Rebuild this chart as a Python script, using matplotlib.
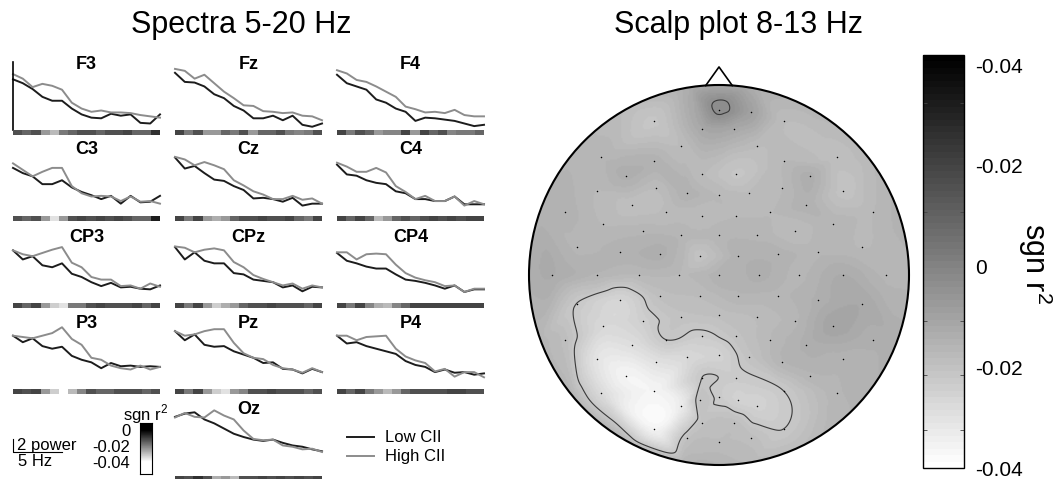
"""Spectra (5-20 Hz) per channel plus an 8-13 Hz scalp map of sgn r^2."""
import matplotlib
matplotlib.use("Agg")
import matplotlib.pyplot as plt
import matplotlib.tri as mtri
from matplotlib.colors import Normalize
from matplotlib.cm import ScalarMappable
from matplotlib.patches import Circle
import numpy as np

plt.rcParams["font.family"] = ["Liberation Sans", "DejaVu Sans"]
plt.rcParams["mathtext.fontset"] = "custom"
plt.rcParams["mathtext.rm"] = "Liberation Sans"

W, H = 1062, 479
LOW = "#1c1c1c"; HIGH = "#8c8c8c"

# ---- spectra data (power, arbitrary units) ----
freqs = [5, 6, 7, 8, 9, 10, 11, 12, 13, 14, 15, 16, 17, 18, 19, 20]
channels = ["F3", "Fz", "F4", "C3", "Cz", "C4", "CP3", "CPz", "CP4", "P3", "Pz", "P4", "Oz"]

low_F3 = [7.8, 7.2, 6.3, 5.1, 4.5, 4.5, 3.3, 2.4, 1.9, 1.8, 2.5, 2.2, 2.4, 1.1, 1.0, 2.4]
high_F3 = [8.6, 7.9, 6.6, 7.1, 6.8, 6.2, 4.2, 3.3, 2.8, 3.0, 2.7, 2.7, 2.6, 2.3, 2.1, 1.9]
low_Fz = [8.8, 7.4, 7.3, 6.7, 5.5, 4.9, 3.7, 3.0, 1.8, 1.8, 2.2, 1.5, 2.2, 0.8, 0.5, 1.0]
high_Fz = [9.4, 9.1, 7.9, 8.5, 7.2, 5.9, 4.9, 3.8, 3.7, 2.9, 2.8, 2.6, 2.7, 2.2, 2.1, 1.5]
low_F4 = [8.5, 7.2, 6.7, 6.2, 4.7, 4.2, 3.3, 2.8, 1.4, 1.9, 1.8, 1.6, 1.4, 1.0, 0.6, 0.8]
high_F4 = [9.2, 8.7, 7.7, 7.4, 6.7, 5.9, 5.1, 3.6, 3.2, 2.7, 2.8, 2.6, 3.1, 2.3, 2.1, 2.1]
low_C3 = [7.4, 6.6, 6.1, 4.9, 4.9, 5.5, 4.4, 3.7, 3.2, 2.6, 3.1, 1.9, 3.1, 2.1, 2.2, 3.1]
high_C3 = [8.1, 7.1, 6.1, 6.8, 7.4, 7.4, 4.6, 3.5, 3.0, 3.1, 3.0, 2.3, 3.0, 2.2, 2.3, 1.9]
low_Cz = [9.0, 7.3, 7.7, 6.6, 5.6, 5.4, 4.6, 4.0, 2.7, 2.8, 2.6, 2.2, 2.8, 1.6, 1.9, 1.9]
high_Cz = [9.1, 8.7, 7.8, 8.3, 7.8, 7.2, 5.5, 4.7, 3.8, 3.3, 2.6, 2.6, 3.1, 2.5, 2.7, 1.9]
low_C4 = [7.9, 6.4, 6.2, 5.5, 5.1, 4.9, 3.8, 3.5, 2.6, 2.6, 2.3, 2.3, 3.0, 1.8, 1.8, 1.8]
high_C4 = [8.2, 7.6, 6.8, 6.8, 7.4, 6.7, 4.6, 3.7, 2.6, 3.1, 2.3, 2.3, 3.0, 1.6, 2.3, 1.8]
low_CP3 = [8.1, 6.7, 7.2, 5.8, 5.5, 6.1, 4.5, 4.0, 3.2, 2.6, 3.1, 2.4, 2.5, 2.2, 2.1, 2.7]
high_CP3 = [8.1, 7.5, 7.2, 7.7, 8.2, 8.6, 6.2, 5.5, 4.0, 3.6, 3.6, 2.6, 2.7, 2.2, 3.0, 2.5]
low_CPz = [8.6, 6.7, 7.8, 6.5, 6.1, 6.1, 4.6, 4.4, 3.6, 3.4, 3.2, 2.4, 2.7, 1.8, 2.5, 2.4]
high_CPz = [8.7, 8.5, 7.8, 8.2, 8.4, 8.1, 6.3, 5.5, 4.3, 3.7, 3.2, 2.7, 3.0, 2.2, 2.7, 2.4]
low_CP4 = [7.7, 6.5, 6.1, 5.6, 5.3, 5.3, 4.4, 3.6, 3.4, 3.1, 2.7, 2.2, 2.7, 1.7, 2.1, 2.1]
high_CP4 = [7.8, 7.8, 6.7, 7.5, 7.6, 7.5, 5.9, 4.6, 3.9, 3.5, 3.2, 2.6, 2.7, 1.7, 2.2, 2.2]
low_P3 = [8.2, 7.2, 7.8, 6.6, 6.2, 6.5, 5.1, 4.5, 4.1, 3.2, 4.0, 3.5, 3.6, 3.4, 3.5, 3.4]
high_P3 = [8.2, 8.0, 7.8, 8.2, 8.6, 9.5, 7.7, 6.8, 4.8, 4.5, 3.6, 3.2, 3.0, 3.6, 3.0, 3.4]
low_Pz = [8.9, 7.5, 8.4, 6.8, 6.5, 6.6, 5.8, 5.3, 4.8, 4.0, 4.1, 3.1, 3.0, 2.4, 3.1, 2.6]
high_Pz = [8.9, 8.2, 8.4, 8.9, 9.2, 9.2, 7.1, 5.5, 4.8, 4.6, 3.7, 3.2, 3.0, 2.5, 3.2, 2.6]
low_P4 = [8.2, 7.0, 7.2, 6.6, 6.2, 5.8, 5.4, 4.3, 3.7, 3.4, 2.6, 3.0, 2.5, 2.6, 2.2, 2.4]
high_P4 = [8.2, 8.2, 7.5, 8.0, 8.1, 8.2, 6.2, 5.0, 4.4, 4.0, 2.7, 3.1, 1.9, 2.6, 2.6, 1.8]
low_Oz = [9.1, 9.6, 9.8, 8.7, 8.1, 7.3, 6.5, 6.0, 5.6, 5.4, 5.6, 5.1, 4.7, 4.5, 4.1, 3.8]
high_Oz = [9.0, 9.7, 9.1, 9.0, 10.1, 9.3, 8.7, 7.0, 5.7, 5.5, 5.6, 4.7, 4.5, 4.1, 4.2, 3.7]

# sgn r^2 per frequency bin (strip under each spectrum)
r2_F3 = [-0.013, -0.016, -0.013, -0.024, -0.029, -0.019, -0.016, -0.013, -0.013, -0.016, -0.013, -0.013, -0.011, -0.016, -0.016, -0.008]
r2_Fz = [-0.011, -0.019, -0.013, -0.024, -0.024, -0.016, -0.019, -0.013, -0.024, -0.016, -0.016, -0.013, -0.019, -0.021, -0.019, -0.013]
r2_F4 = [-0.011, -0.019, -0.013, -0.016, -0.024, -0.021, -0.021, -0.011, -0.024, -0.011, -0.016, -0.013, -0.021, -0.019, -0.019, -0.016]
r2_C3 = [-0.013, -0.016, -0.013, -0.024, -0.035, -0.024, -0.013, -0.011, -0.013, -0.011, -0.013, -0.011, -0.013, -0.016, -0.016, -0.005]
r2_Cz = [-0.011, -0.019, -0.011, -0.024, -0.027, -0.024, -0.016, -0.013, -0.013, -0.011, -0.013, -0.013, -0.011, -0.016, -0.019, -0.011]
r2_C4 = [-0.011, -0.016, -0.011, -0.016, -0.029, -0.024, -0.016, -0.013, -0.016, -0.013, -0.011, -0.013, -0.011, -0.013, -0.011, -0.011]
r2_CP3 = [-0.011, -0.016, -0.011, -0.024, -0.032, -0.035, -0.019, -0.019, -0.013, -0.011, -0.013, -0.013, -0.013, -0.011, -0.016, -0.011]
r2_CPz = [-0.011, -0.019, -0.011, -0.024, -0.032, -0.027, -0.024, -0.016, -0.013, -0.013, -0.011, -0.013, -0.013, -0.013, -0.016, -0.011]
r2_CP4 = [-0.011, -0.019, -0.011, -0.021, -0.027, -0.029, -0.021, -0.016, -0.011, -0.011, -0.011, -0.011, -0.011, -0.011, -0.011, -0.011]
r2_P3 = [-0.011, -0.013, -0.011, -0.024, -0.032, -0.040, -0.029, -0.021, -0.013, -0.016, -0.016, -0.013, -0.013, -0.013, -0.016, -0.013]
r2_Pz = [-0.011, -0.019, -0.011, -0.024, -0.032, -0.035, -0.024, -0.021, -0.013, -0.013, -0.011, -0.013, -0.013, -0.013, -0.016, -0.013]
r2_P4 = [-0.011, -0.016, -0.011, -0.019, -0.024, -0.029, -0.024, -0.016, -0.013, -0.013, -0.013, -0.013, -0.011, -0.011, -0.013, -0.013]
r2_Oz = [-0.011, -0.013, -0.008, -0.013, -0.027, -0.024, -0.029, -0.013, -0.013, -0.011, -0.013, -0.011, -0.013, -0.011, -0.013, -0.011]

# ---- scalp map: electrode positions (head radius = 1) and 8-13 Hz sgn r^2 ----
elec_x = [0.00, 0.17, -0.34, -0.09, 0.08, 0.34, -0.20, 0.20, -0.62, -0.34, 0.34, 0.62,
          -0.49, -0.09, 0.09, 0.48, -0.64, -0.33, -0.17, 0.00, 0.16, 0.33, 0.65,
          -0.46, -0.28, -0.09, 0.09, 0.27, 0.46, -0.81, 0.81,
          -0.61, -0.40, -0.20, 0.00, 0.20, 0.40, 0.60,
          -0.75, -0.52, -0.31, -0.10, 0.10, 0.31, 0.52, 0.75,
          -0.88, -0.64, -0.42, -0.21, 0.00, 0.21, 0.42, 0.65, 0.88,
          -0.75, -0.52, -0.31, -0.10, 0.10, 0.31, 0.52, 0.75,
          -0.61, -0.40, -0.20, 0.00, 0.20, 0.40, 0.60,
          -0.81, -0.46, -0.28, -0.09, 0.09, 0.27, 0.46, 0.81,
          -0.64, -0.33, -0.17, 0.00, 0.16, 0.33, 0.65,
          -0.49, -0.09, 0.09, 0.48, -0.62, -0.34, 0.34, 0.62,
          -0.20, -0.10, 0.00, 0.10, 0.20, -0.34, -0.09, 0.08, 0.34, -0.17, 0.00, 0.17]
elec_y = [0.87, 0.86, 0.81, 0.77, 0.77, 0.81, 0.68, 0.68, 0.62, 0.60, 0.60, 0.62,
          0.52, 0.53, 0.53, 0.52, 0.44, 0.46, 0.43, 0.42, 0.43, 0.46, 0.44,
          0.37, 0.33, 0.31, 0.31, 0.33, 0.37, 0.33, 0.33,
          0.27, 0.23, 0.21, 0.21, 0.21, 0.23, 0.27,
          0.15, 0.12, 0.11, 0.10, 0.10, 0.11, 0.12, 0.15,
          0.00, 0.00, 0.00, 0.00, 0.00, 0.00, 0.00, 0.00, 0.00,
          -0.15, -0.13, -0.11, -0.11, -0.11, -0.11, -0.13, -0.15,
          -0.27, -0.24, -0.22, -0.21, -0.22, -0.24, -0.27,
          -0.34, -0.37, -0.34, -0.32, -0.32, -0.34, -0.37, -0.34,
          -0.44, -0.46, -0.43, -0.42, -0.43, -0.46, -0.44,
          -0.53, -0.54, -0.54, -0.53, -0.62, -0.61, -0.61, -0.62,
          -0.69, -0.66, -0.64, -0.66, -0.69, -0.81, -0.78, -0.78, -0.81, -0.86, -0.88, -0.86]
elec_r2 = [-0.003, -0.010, -0.021, -0.012, -0.012, -0.018, -0.018, -0.018, -0.016, -0.015, -0.017, -0.019,
           -0.014, -0.018, -0.021, -0.014, -0.017, -0.018, -0.015, -0.017, -0.018, -0.017, -0.020,
           -0.019, -0.018, -0.018, -0.017, -0.017, -0.015, -0.015, -0.017,
           -0.017, -0.016, -0.016, -0.016, -0.016, -0.018, -0.016,
           -0.016, -0.015, -0.014, -0.020, -0.015, -0.015, -0.016, -0.017,
           -0.013, -0.016, -0.017, -0.017, -0.015, -0.014, -0.016, -0.013, -0.016,
           -0.022, -0.026, -0.019, -0.018, -0.016, -0.016, -0.014, -0.012,
           -0.027, -0.024, -0.020, -0.019, -0.018, -0.016, -0.011,
           -0.019, -0.029, -0.022, -0.023, -0.020, -0.017, -0.014, -0.014,
           -0.031, -0.030, -0.027, -0.025, -0.020, -0.016, -0.015,
           -0.036, -0.022, -0.023, -0.016, -0.028, -0.036, -0.022, -0.016,
           -0.033, -0.020, -0.023, -0.025, -0.025, -0.036, -0.020, -0.019, -0.022, -0.020, -0.018, -0.019]
# values
rim_deg = [0, 20, 40, 60, 80, 100, 120, 140, 160, 180, 200, 220, 240, 260, 280, 300, 320, 340]
rim_r2 = [-0.016, -0.015, -0.017, -0.016, -0.014, -0.014, -0.018, -0.016, -0.015,
          -0.014, -0.016, -0.015, -0.014, -0.015, -0.017, -0.017, -0.015, -0.014]

low = {"F3": low_F3, "Fz": low_Fz, "F4": low_F4, "C3": low_C3, "Cz": low_Cz, "C4": low_C4,
       "CP3": low_CP3, "CPz": low_CPz, "CP4": low_CP4, "P3": low_P3, "Pz": low_Pz, "P4": low_P4, "Oz": low_Oz}
high = {"F3": high_F3, "Fz": high_Fz, "F4": high_F4, "C3": high_C3, "Cz": high_Cz, "C4": high_C4,
        "CP3": high_CP3, "CPz": high_CPz, "CP4": high_CP4, "P3": high_P3, "Pz": high_Pz, "P4": high_P4, "Oz": high_Oz}
r2 = {"F3": r2_F3, "Fz": r2_Fz, "F4": r2_F4, "C3": r2_C3, "Cz": r2_Cz, "C4": r2_C4,
      "CP3": r2_CP3, "CPz": r2_CPz, "CP4": r2_CP4, "P3": r2_P3, "Pz": r2_Pz, "P4": r2_P4, "Oz": r2_Oz}


def box(l, t, w, h):
    # pixel box (from top-left) -> figure fraction
    return [l / W, 1 - (t + h) / H, w / W, h / H]


fig = plt.figure(figsize=(W / 100, H / 100), dpi=100)
ov = fig.add_axes([0, 0, 1, 1], zorder=5)
ov.set_xlim(0, W); ov.set_ylim(H, 0); ov.axis("off"); ov.patch.set_alpha(0)

cmap = plt.get_cmap("gray_r", 64)
norm_strip = Normalize(-0.04, 0)

# ---- spectra grid ----
COL_L = [13, 175, 337]; PW = 147
STRIP_T = [130, 216, 303, 389, 476]; SH = 5
LH = 68; POW_PX = 6.5
slots = [(r, c) for r in range(4) for c in range(3)] + [(4, 1)]

for ch, (r, c) in zip(channels, slots):
    l, st = COL_L[c], STRIP_T[r]
    ax = fig.add_axes(box(l, st - LH, PW, LH))
    ax.plot(freqs, low[ch], color=LOW, lw=1.4, clip_on=False)
    ax.plot(freqs, high[ch], color=HIGH, lw=1.4, clip_on=False)
    ax.set_xlim(5, 20); ax.set_ylim(0, LH / POW_PX)
    ax.set_xticks([]); ax.set_yticks([])
    for s in ax.spines.values():
        s.set_visible(False)
    if ch == "F3":
        ax.spines["left"].set_visible(True); ax.spines["left"].set_linewidth(1.2)
    ax.patch.set_alpha(0)
    ax.text(0.5, 1 - 2 / LH, ch, transform=ax.transAxes, ha="center", va="center",
            fontsize=13, fontweight="bold")
    sx = fig.add_axes(box(l, st, PW, SH))
    sx.imshow([r2[ch]], cmap=cmap, norm=norm_strip, aspect="auto",
              interpolation="nearest", extent=(0, 16, 0, 1))
    sx.axis("off")

# scale bar
hz_px = PW / 15
ov.plot([13, 13, 13 + 5 * hz_px], [452 - 2 * POW_PX, 452, 452], color="k", lw=0.8)
ov.text(17, 450, "2 power", fontsize=12, va="baseline")
ov.text(18, 466, "5 Hz", fontsize=12, va="baseline")

# small colour key for the strips
kx = fig.add_axes(box(140, 423, 12, 51))
kx.imshow(np.linspace(0.0085, -0.055, 64).reshape(-1, 1), cmap=cmap, norm=norm_strip,
          aspect="auto", extent=(0, 1, -0.055, 0.0085))
kx.set_ylim(-0.055, 0.0085); kx.set_xticks([])
kx.set_yticks([0, -0.02, -0.04]); kx.set_yticklabels(["0", "-0.02", "-0.04"])
kx.tick_params(length=0, labelsize=12, pad=7)
for s in kx.spines.values():
    s.set_linewidth(0.8)
ov.text(168, 420, "sgn r$^2$", fontsize=12, ha="right", va="baseline")

# legend
ov.plot([347, 374], [437, 437], color=LOW, lw=1.4)
ov.plot([347, 374], [456, 456], color=HIGH, lw=1.4)
ov.text(385, 437, "Low CII", fontsize=12, va="center")
ov.text(385, 456, "High CII", fontsize=12, va="center")

# titles
ov.text(241, 33, "Spectra 5-20 Hz", fontsize=22, ha="center", va="baseline")
ov.text(738, 33, "Scalp plot 8-13 Hz", fontsize=22, ha="center", va="baseline")

# ---- scalp map ----
norm_big = Normalize(-0.04, 0.042)
R_PX = 190; HALF = 220
axs = fig.add_axes(box(719 - HALF, 275 - HALF, 2 * HALF, 2 * HALF))
lim = HALF / R_PX
axs.set_xlim(-lim, lim); axs.set_ylim(-lim, lim); axs.axis("off")

rim_a = np.deg2rad(rim_deg)
px = np.concatenate([elec_x, 1.02 * np.cos(rim_a)])
py = np.concatenate([elec_y, 1.02 * np.sin(rim_a)])
pv = np.concatenate([elec_r2, rim_r2])
tri = mtri.Triangulation(px, py)
interp = mtri.CubicTriInterpolator(tri, pv, kind="geom")
g = np.linspace(-1.0, 1.0, 301)
GX, GY = np.meshgrid(g, g)
Z = interp(GX, GY)

head = Circle((0, 0), 1.0, fc="none", ec="k", lw=1.5, zorder=4)
axs.add_patch(head)
im = axs.imshow(Z, extent=(-1, 1, -1, 1), origin="lower", cmap=cmap, norm=norm_big,
                interpolation="bilinear")
im.set_clip_path(head)
cs = axs.contour(GX, GY, Z, levels=[-0.022, -0.004], colors="#3a3a3a",
                 linewidths=0.8, linestyles="solid")
cs.set_clip_path(head)
axs.scatter(elec_x, elec_y, s=1.2, c="k", lw=0, zorder=3)
axs.plot([-0.07, 0, 0.07], [0.997, 1.095, 0.997], color="k", lw=1.2, clip_on=False)

# colour bar
cax = fig.add_axes(box(923, 55, 41, 413))
cb = fig.colorbar(ScalarMappable(norm_big, cmap), cax=cax)
cb.set_ticks([-0.04, -0.02, 0, 0.02, 0.04])
cb.set_ticklabels(["-0.04", "-0.02", "0", "-0.02", "-0.04"])
cax.tick_params(which="major", length=0, labelsize=15, pad=8)
cax.set_yticks(np.arange(-3, 4) * 0.0108, minor=True)
cax.tick_params(which="minor", left=True, right=True, direction="in", length=3,
                width=0.6, color="#444444")
cb.outline.set_linewidth(1.0)
ov.text(1035, 263, "sgn r$^2$", fontsize=22, rotation=270, ha="center", va="center")

fig.savefig("out.png", dpi=100)
